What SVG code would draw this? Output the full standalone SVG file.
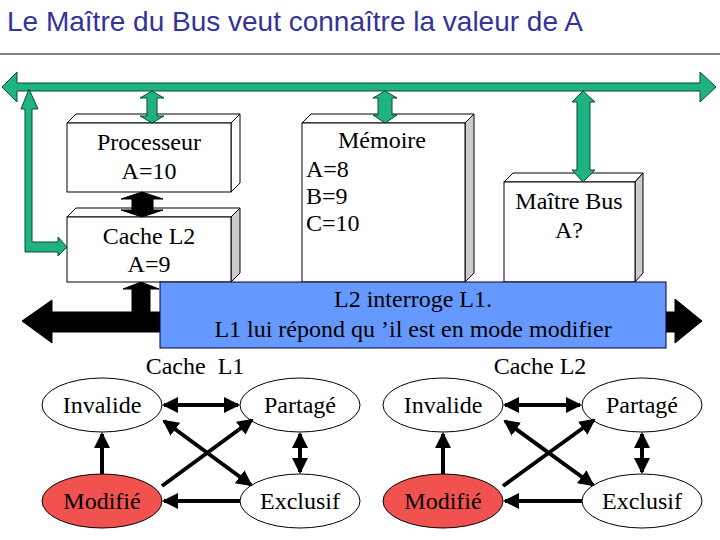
<svg xmlns="http://www.w3.org/2000/svg" width="720" height="540" viewBox="0 0 720 540">
<defs>
<style>
.t{font-family:"Liberation Serif","Times New Roman",serif;font-size:24px;fill:#000}
.title{font-family:"Liberation Sans",Arial,sans-serif;font-size:28px;fill:#333399}
.g{fill:#1fb384;stroke:#0b4a35;stroke-width:1}
.b{fill:#000;stroke:#000;stroke-width:1}
.front{fill:#fff;stroke:#000;stroke-width:1}
.top{fill:#fff;stroke:#000;stroke-width:1}
.side{fill:#cccccc;stroke:#000;stroke-width:1}
.ell{fill:#fff;stroke:#000;stroke-width:1}
.red{fill:#f2524f;stroke:#000;stroke-width:1}
.e{stroke:#000;stroke-width:4;fill:none}
</style>
<marker id="ah" markerWidth="4" markerHeight="4" refX="3.5" refY="2" orient="auto" markerUnits="strokeWidth">
<path d="M0,0 L4,2 L0,4 z" fill="#000"/>
</marker>
<marker id="as" markerWidth="4" markerHeight="4" refX="0.5" refY="2" orient="auto" markerUnits="strokeWidth">
<path d="M4,0 L0,2 L4,4 z" fill="#000"/>
</marker>
</defs>
<rect width="720" height="540" fill="#fff"/>
<text class="title" x="7" y="31">Le Maître du Bus veut connaître la valeur de A</text>
<line x1="0" y1="54" x2="720" y2="54" stroke="#000" stroke-width="1"/>

<g id="bus-black">
<polygon class="b" points="22,321 52,300 52,312 675,312 675,299 702,321 675,343 675,332 52,332 52,343"/>
<polygon class="b" points="141,282 159,289 150,289 150,312 132,312 132,289 123,289"/>
</g>

<g id="processeur">
<polygon class="top" points="67,123 76,114 240,114 231,123"/>
<polygon class="top" points="231,123 240,114 240,183 231,192"/>
<rect class="front" x="67" y="123" width="164" height="69"/>
<text class="t" x="149" y="150" text-anchor="middle">Processeur</text>
<text class="t" x="149" y="179" text-anchor="middle">A=10</text>
</g>

<g id="cache-l2">
<polygon class="top" points="67,217 76,208 240,208 231,217"/>
<polygon class="side" points="231,217 240,208 240,273 231,282"/>
<rect class="front" x="67" y="217" width="164" height="65"/>
<text class="t" x="149" y="244" text-anchor="middle">Cache L2</text>
<text class="t" x="149" y="272" text-anchor="middle">A=9</text>
</g>

<g id="memoire">
<polygon class="top" points="302,123 311,114 474,114 465,123"/>
<polygon class="side" points="465,123 474,114 474,273 465,282"/>
<rect class="front" x="302" y="123" width="163" height="159"/>
<text class="t" x="382" y="148" text-anchor="middle">Mémoire</text>
<text class="t" x="306" y="177">A=8</text>
<text class="t" x="306" y="204">B=9</text>
<text class="t" x="306" y="231">C=10</text>
</g>

<g id="maitre-bus">
<polygon class="top" points="504,182 513,173 643,173 635,182"/>
<polygon class="side" points="635,182 643,173 643,273 635,282"/>
<rect class="front" x="504" y="182" width="131" height="100"/>
<text class="t" x="569" y="209" text-anchor="middle">Maître Bus</text>
<text class="t" x="569" y="238" text-anchor="middle">A?</text>
</g>

<g id="bus-green">
<polygon class="g" points="2,87 17,72 17,83 700,83 700,72 716,87 700,102 700,91 17,91 17,102"/>
<polygon class="g" points="29,89 38,109 32,109 32,242 58,242 58,237 67,247 58,256 58,252 25,252 25,109 21,109"/>
<polygon class="g" points="152,91 164,98 157,98 157,116 164,116 152,123 140,116 147,116 147,98 140,98"/>
<polygon class="g" points="385,91 397,98 392,98 392,115 397,115 385,123 373,115 378,115 378,98 373,98"/>
<polygon class="g" points="583,91 595,102 590,102 590,170 595,170 583,182 572,170 577,170 577,102 572,102"/>
<polygon class="b" points="142,192 163,199 153,199 153,210 163,210 142,217 121,210 132,210 132,199 121,199"/>
</g>

<g id="message">
<rect x="160" y="282" width="506" height="66" fill="#6699ff" stroke="#000033" stroke-width="1"/>
<text class="t" x="413" y="307" text-anchor="middle">L2 interroge L1.</text>
<text class="t" x="413" y="337" text-anchor="middle">L1 lui répond qu ’il est en mode modifier</text>
</g>

<text class="t" x="195" y="374" text-anchor="middle" xml:space="preserve">Cache  L1</text>
<text class="t" x="540" y="374" text-anchor="middle">Cache L2</text>

<g id="l1-invalide"><ellipse class="ell" cx="102" cy="405" rx="60" ry="27"/><text class="t" x="102" y="413" text-anchor="middle">Invalide</text></g>
<g id="l1-partage"><ellipse class="ell" cx="300" cy="405" rx="60" ry="27"/><text class="t" x="300" y="413" text-anchor="middle">Partagé</text></g>
<g id="l1-modifie"><ellipse class="red" cx="102" cy="501" rx="60" ry="27"/><text class="t" x="102" y="509" text-anchor="middle">Modifié</text></g>
<g id="l1-exclusif"><ellipse class="ell" cx="300" cy="501" rx="60" ry="27"/><text class="t" x="300" y="509" text-anchor="middle">Exclusif</text></g>

<g id="l2-invalide"><ellipse class="ell" cx="443" cy="405" rx="60" ry="27"/><text class="t" x="443" y="413" text-anchor="middle">Invalide</text></g>
<g id="l2-partage"><ellipse class="ell" cx="642" cy="405" rx="60" ry="27"/><text class="t" x="642" y="413" text-anchor="middle">Partagé</text></g>
<g id="l2-modifie"><ellipse class="red" cx="443" cy="501" rx="60" ry="27"/><text class="t" x="443" y="509" text-anchor="middle">Modifié</text></g>
<g id="l2-exclusif"><ellipse class="ell" cx="642" cy="501" rx="60" ry="27"/><text class="t" x="642" y="509" text-anchor="middle">Exclusif</text></g>

<g id="connectors">
<line class="e" x1="164" y1="405" x2="238" y2="405" marker-start="url(#as)" marker-end="url(#ah)"/>
<line class="e" x1="102" y1="474" x2="102" y2="434" marker-end="url(#ah)"/>
<line class="e" x1="300" y1="434" x2="300" y2="472" marker-start="url(#as)" marker-end="url(#ah)"/>
<line class="e" x1="240" y1="501" x2="164" y2="501" marker-end="url(#ah)"/>
<line class="e" x1="162" y1="486" x2="252" y2="420" marker-end="url(#ah)"/>
<line class="e" x1="164" y1="421" x2="251" y2="485" marker-start="url(#as)" marker-end="url(#ah)"/>

<line class="e" x1="505" y1="405" x2="580" y2="405" marker-start="url(#as)" marker-end="url(#ah)"/>
<line class="e" x1="443" y1="474" x2="443" y2="434" marker-end="url(#ah)"/>
<line class="e" x1="642" y1="434" x2="642" y2="472" marker-start="url(#as)" marker-end="url(#ah)"/>
<line class="e" x1="582" y1="501" x2="505" y2="501" marker-end="url(#ah)"/>
<line class="e" x1="503" y1="486" x2="594" y2="420" marker-end="url(#ah)"/>
<line class="e" x1="505" y1="421" x2="593" y2="485" marker-start="url(#as)" marker-end="url(#ah)"/>
</g>
</svg>
